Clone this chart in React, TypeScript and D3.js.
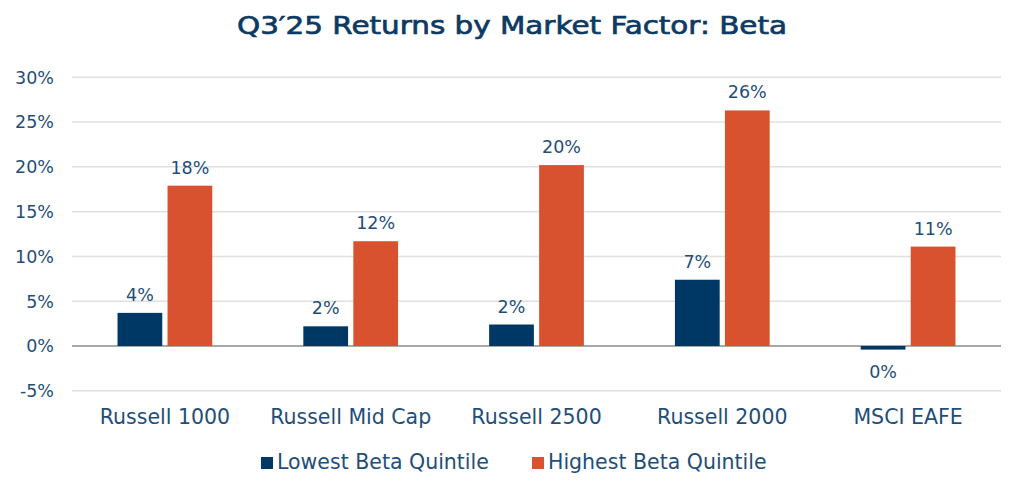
import React from "react";
import * as d3 from "d3";

const categories = ["Russell 1000", "Russell Mid Cap", "Russell 2500", "Russell 2000", "MSCI EAFE"];
const seriesNames = ["Lowest Beta Quintile", "Highest Beta Quintile"];
const lowestBeta = [3.7, 2.2, 2.4, 7.4, -0.4];
const highestBeta = [17.9, 11.7, 20.2, 26.3, 11.1];
const yTicks = [-5, 0, 5, 10, 15, 20, 25, 30];
const colors = ["#003865", "#D95230"];

const W = 1024;
const H = 493;
const M = { left: 72, right: 1001, top: 77.3, bottom: 390.8 };

export default function App() {
  const y = d3.scaleLinear().domain([-5, 30]).range([M.bottom, M.top]);
  const x0 = d3.scaleBand<string>().domain(categories).range([M.left, M.right]).paddingInner(0.49).paddingOuter(0.245);
  const x1 = d3.scaleBand<number>().domain([0, 1]).range([0, x0.bandwidth()]).paddingInner(0.105);
  const series = [lowestBeta, highestBeta];
  const textColor = "#1F4E79";
  const font = "'DejaVu Sans', 'Noto Sans', sans-serif";
  const fmt = (v: number) => `${Math.round(Math.abs(v) < 0.5 ? 0 : v)}%`;

  return (
    <svg width={W} height={H} style={{ position: "absolute", left: 0, top: 0, background: "#fff" }} fontFamily={font}>
      <rect width={W} height={H} fill="#fff" />
      <text x={512} y={34} textAnchor="middle" fontSize={25} fill="#0D3A63" stroke="#0D3A63" strokeWidth={0.7} textLength={550} lengthAdjust="spacingAndGlyphs">
        Q3′25 Returns by Market Factor: Beta
      </text>
      {yTicks.map((t) => (
        <g key={t}>
          <line x1={M.left} x2={M.right} y1={y(t)} y2={y(t)} stroke={t === 0 ? "#8c8c8c" : "#e0e0e0"} strokeWidth={1.5} />
          <text x={54} y={y(t)} dy="0.36em" textAnchor="end" fontSize={17.5} fill={textColor}>
            {`${t}%`}
          </text>
        </g>
      ))}
      {categories.map((c, i) => (
        <g key={c}>
          {series.map((s, si) => {
            const v = s[i];
            const bx = (x0(c) as number) + (x1(si) as number);
            const top = y(Math.max(0, v));
            const h = Math.abs(y(v) - y(0));
            const ly = v >= 0 ? y(v) - 12 : y(v) + 28;
            return (
              <g key={si}>
                <rect x={bx} y={top} width={x1.bandwidth()} height={Math.max(h, 0)} fill={colors[si]} />
                <text x={bx + x1.bandwidth() / 2} y={ly} textAnchor="middle" fontSize={17.5} fill={textColor}>
                  {fmt(v)}
                </text>
              </g>
            );
          })}
          <text x={(x0(c) as number) + x0.bandwidth() / 2} y={424} textAnchor="middle" fontSize={20.5} fill={textColor}>
            {c}
          </text>
        </g>
      ))}
      {seriesNames.map((n, i) => {
        const lx = i === 0 ? 261 : 532;
        return (
          <g key={n}>
            <rect x={lx} y={457} width={12} height={12} fill={colors[i]} />
            <text x={lx + 16} y={469} fontSize={20.5} fill={textColor}>
              {n}
            </text>
          </g>
        );
      })}
    </svg>
  );
}
